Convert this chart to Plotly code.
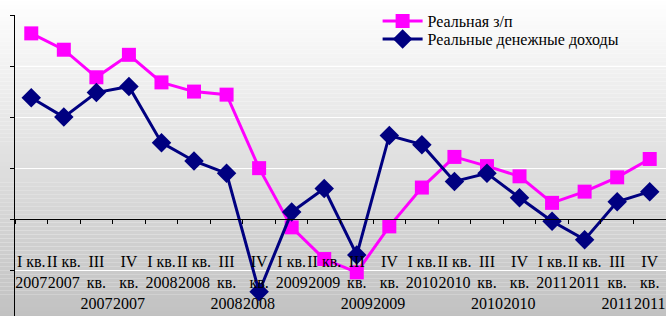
import plotly.graph_objects as go

categories = ["I кв. 2007", "II кв. 2007", "III кв. 2007", "IV кв. 2007",
              "I кв. 2008", "II кв. 2008", "III кв. 2008", "IV кв. 2008",
              "I кв. 2009", "II кв. 2009", "III кв. 2009", "IV кв. 2009",
              "I кв. 2010", "II кв. 2010", "III кв. 2010", "IV кв. 2010",
              "I кв. 2011", "II кв. 2011", "III кв. 2011", "IV кв. 2011"]
tick_labels = ["I кв.<br>2007", "II кв.<br>2007", "III<br>кв.<br>2007", "IV<br>кв.<br>2007",
               "I кв.<br>2008", "II кв.<br>2008", "III<br>кв.<br>2008", "IV<br>кв.<br>2008",
               "I кв.<br>2009", "II кв.<br>2009", "III<br>кв.<br>2009", "IV<br>кв.<br>2009",
               "I кв.<br>2010", "II кв.<br>2010", "III<br>кв.<br>2010", "IV<br>кв.<br>2010",
               "I кв.<br>2011", "II кв.<br>2011", "III<br>кв.<br>2011", "IV<br>кв.<br>2011"]
real_wage = [18.2, 16.6, 13.9, 16.1, 13.4, 12.5, 12.2, 5.0, -0.8, -3.9,
             -5.2, -0.7, 3.1, 6.1, 5.2, 4.2, 1.6, 2.7, 4.1, 5.9]
real_income = [11.9, 10.0, 12.4, 13.0, 7.5, 5.7, 4.5, -7.1, 0.7, 3.0,
               -3.5, 8.2, 7.3, 3.7, 4.5, 2.1, -0.2, -2.0, 1.7, 2.7]
series_names = ["Реальная з/п", "Реальные денежные доходы"]

W, H = 666, 316
ML, MR, MT, MB = 15, 0, 15, 0
PH = H - MT - MB
y_range = [-9.48, 20]
zero_frac = (0 - y_range[0]) / (y_range[1] - y_range[0])

fig = go.Figure()
fig.add_trace(go.Scatter(
    x=categories, y=real_wage, name=series_names[0], mode="lines+markers",
    line=dict(color="#ff00ff", width=3),
    marker=dict(symbol="square", size=14, color="#ff00ff"),
    legend="legend",
))
fig.add_trace(go.Scatter(
    x=categories, y=real_income, name=series_names[1], mode="lines+markers",
    line=dict(color="#000080", width=3),
    marker=dict(symbol="diamond", size=15, color="#000080"),
    legend="legend2",
))

# gradient background
shapes = []
n = 80
top_extra = 0.06
for i in range(n):
    f0 = i / n
    f1 = (i + 1) / n
    y0p = -0.01 + (1 + top_extra + 0.01) * f0
    y1p = -0.01 + (1 + top_extra + 0.01) * f1
    mid_frac = 1 - (f0 + f1) / 2
    c = int(round(255 - 62 * mid_frac))
    shapes.append(dict(type="rect", xref="paper", yref="paper",
                       x0=-0.05, x1=1.05, y0=y0p, y1=y1p,
                       fillcolor=f"rgb({c},{c},{c})", line=dict(width=0),
                       layer="below"))

legend_common = dict(xanchor="left", yanchor="top", bgcolor="rgba(0,0,0,0)",
                     font=dict(size=16, family="Liberation Serif", color="black"),
                     itemwidth=40)

fig.update_layout(
    width=W, height=H,
    margin=dict(l=ML, r=MR, t=MT, b=MB, autoexpand=False),
    paper_bgcolor="white",
    plot_bgcolor="rgba(0,0,0,0)",
    shapes=shapes,
    font=dict(family="Liberation Serif", size=16, color="black"),
    showlegend=True,
    legend=dict(x=0.557, y=1 + (MT - 4) / PH, **legend_common),
    legend2=dict(x=0.557, y=1 + (MT - 22) / PH, **legend_common),
    xaxis=dict(type="category", categoryorder="array", categoryarray=categories,
               tickvals=categories, ticktext=tick_labels,
               range=[-0.5, len(categories) - 0.5],
               anchor="free", position=zero_frac,
               showline=True, linecolor="black", linewidth=1,
               ticks="outside", ticklen=4, tickcolor="black",
               tickson="boundaries", tickangle=0,
               ticklabelstandoff=28,
               showgrid=False, zeroline=False,
               tickfont=dict(size=16, family="Liberation Serif", color="black"),
               automargin=False),
    yaxis=dict(range=y_range, dtick=5, tick0=0,
               showline=True, linecolor="black", linewidth=1,
               ticks="outside", ticklen=4, tickcolor="black",
               showticklabels=False, showgrid=True, gridcolor="white",
               gridwidth=1, zeroline=False, automargin=False),
)

fig.write_html("out.html", config={"displayModeBar": False},
               post_script="document.body.style.margin='0';")
